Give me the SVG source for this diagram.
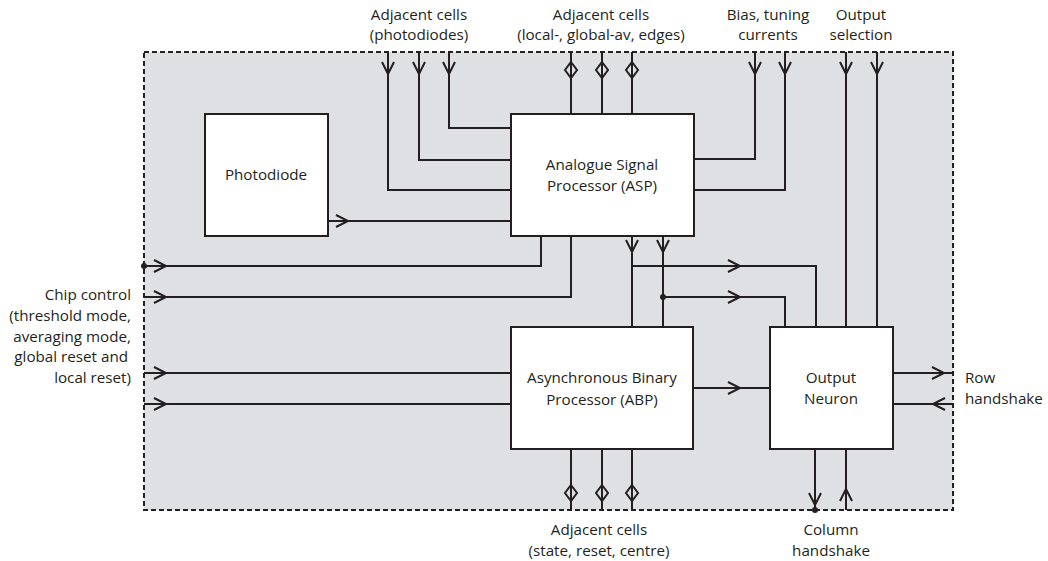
<svg xmlns="http://www.w3.org/2000/svg" xmlns:xlink="http://www.w3.org/1999/xlink" width="1048" height="561" viewBox="0 0 1048 561">
  <style>
    .frame { fill: #dfe0e4; stroke: #231f20; stroke-width: 2; stroke-dasharray: 5 3; }
    .box { fill: #ffffff; stroke: #231f20; stroke-width: 2; }
    .wire { fill: none; stroke: #231f20; stroke-width: 2; }
    .head { fill: none; stroke: #231f20; stroke-width: 2; stroke-linejoin: miter; }
    .dot { fill: #231f20; }
    text { font-family: "Open Sans", "Noto Sans", "Liberation Sans", sans-serif; font-size: 15.2px; fill: #231f20; }
    .c { text-anchor: middle; }
    .r { text-anchor: end; }
  </style>
  <defs>
    <!-- open chevron arrowhead, tip at origin, pointing +x -->
    <path id="ah" d="M-12,-6 L0,0 L-12,6"/>
    <!-- bidirectional port diamond centred on origin -->
    <path id="dm" d="M0,-8 L6,0 L0,8 L-6,0 Z"/>
  </defs>

  <!-- pixel cell boundary -->
  <rect class="frame" x="144" y="52" width="809" height="458"/>

  <!-- connectors -->
  <g id="connectors">
    <g class="wire">
      <!-- adjacent photodiodes into ASP -->
      <path d="M388,52 V190 H511"/>
      <path d="M419,52 V160 H511"/>
      <path d="M449,52 V128 H511"/>
      <!-- adjacent cells (local/global average, edges) -->
      <path d="M571,52 V114"/>
      <path d="M602,52 V114"/>
      <path d="M632,52 V114"/>
      <!-- bias and tuning currents -->
      <path d="M755,52 V159 H694"/>
      <path d="M785,52 V190 H694"/>
      <!-- output selection -->
      <path d="M846,52 V327"/>
      <path d="M877,52 V327"/>
      <!-- photodiode to ASP -->
      <path d="M328,221 H511"/>
      <!-- chip control -->
      <path d="M144,266 H541 V236"/>
      <path d="M144,297 H571 V236"/>
      <path d="M144,373 H511"/>
      <path d="M144,404 H511"/>
      <!-- ASP to ABP and output neuron -->
      <path d="M632,236 V327"/>
      <path d="M663,236 V327"/>
      <path d="M632,266 H816 V327"/>
      <path d="M663,297 H785 V327"/>
      <!-- ABP to output neuron -->
      <path d="M693,388 H770"/>
      <!-- row handshake -->
      <path d="M893,373 H953"/>
      <path d="M893,404 H953"/>
      <!-- adjacent cells (state, reset, centre) -->
      <path d="M571,449 V510"/>
      <path d="M602,449 V510"/>
      <path d="M632,449 V510"/>
      <!-- column handshake -->
      <path d="M815,449 V510"/>
      <path d="M846,449 V510"/>
    </g>
    <g class="head">
      <use xlink:href="#ah" transform="translate(388,74) rotate(90)"/>
      <use xlink:href="#ah" transform="translate(419,74) rotate(90)"/>
      <use xlink:href="#ah" transform="translate(449,74) rotate(90)"/>
      <use xlink:href="#ah" transform="translate(755,74) rotate(90)"/>
      <use xlink:href="#ah" transform="translate(785,74) rotate(90)"/>
      <use xlink:href="#ah" transform="translate(846,74) rotate(90)"/>
      <use xlink:href="#ah" transform="translate(877,74) rotate(90)"/>
      <use xlink:href="#ah" transform="translate(348,221)"/>
      <use xlink:href="#ah" transform="translate(166,266)"/>
      <use xlink:href="#ah" transform="translate(166,297)"/>
      <use xlink:href="#ah" transform="translate(166,373)"/>
      <use xlink:href="#ah" transform="translate(166,404)"/>
      <use xlink:href="#ah" transform="translate(632,252) rotate(90)"/>
      <use xlink:href="#ah" transform="translate(663,252) rotate(90)"/>
      <use xlink:href="#ah" transform="translate(740,266)"/>
      <use xlink:href="#ah" transform="translate(740,297)"/>
      <use xlink:href="#ah" transform="translate(740,388)"/>
      <use xlink:href="#ah" transform="translate(944,373)"/>
      <use xlink:href="#ah" transform="translate(933,404) rotate(180)"/>
      <use xlink:href="#ah" transform="translate(815,505) rotate(90)"/>
      <use xlink:href="#ah" transform="translate(846,489) rotate(-90)"/>
      <use xlink:href="#dm" transform="translate(571,70)"/>
      <use xlink:href="#dm" transform="translate(602,70)"/>
      <use xlink:href="#dm" transform="translate(632,70)"/>
      <use xlink:href="#dm" transform="translate(571,493)"/>
      <use xlink:href="#dm" transform="translate(602,493)"/>
      <use xlink:href="#dm" transform="translate(632,493)"/>
    </g>
    <circle class="dot" cx="144" cy="266" r="3"/>
    <circle class="dot" cx="663" cy="297" r="3"/>
    <circle class="dot" cx="815" cy="510" r="3"/>
  </g>

  <!-- blocks -->
  <g id="photodiode">
    <rect class="box" x="205" y="114" width="123" height="122"/>
    <text class="c" x="266" y="180">Photodiode</text>
  </g>
  <g id="asp">
    <rect class="box" x="511" y="114" width="183" height="122"/>
    <text class="c" x="602" y="170">Analogue Signal</text>
    <text class="c" x="602" y="191">Processor (ASP)</text>
  </g>
  <g id="abp">
    <rect class="box" x="511" y="327" width="182" height="122"/>
    <text class="c" x="602" y="383">Asynchronous Binary</text>
    <text class="c" x="602" y="405">Processor (ABP)</text>
  </g>
  <g id="output-neuron">
    <rect class="box" x="770" y="327" width="123" height="122"/>
    <text class="c" x="831" y="383">Output</text>
    <text class="c" x="831" y="404">Neuron</text>
  </g>

  <!-- external signal labels -->
  <g id="label-photodiodes">
    <text class="c" x="419" y="20">Adjacent cells</text>
    <text class="c" x="419" y="40">(photodiodes)</text>
  </g>
  <g id="label-local">
    <text class="c" x="601" y="20">Adjacent cells</text>
    <text class="c" x="601" y="40">(local-, global-av, edges)</text>
  </g>
  <g id="label-bias">
    <text class="c" x="768" y="20">Bias, tuning</text>
    <text class="c" x="768" y="40">currents</text>
  </g>
  <g id="label-outsel">
    <text class="c" x="861" y="20">Output</text>
    <text class="c" x="861" y="40">selection</text>
  </g>
  <g id="label-chip">
    <text class="r" x="131" y="300">Chip control</text>
    <text class="r" x="131" y="321">(threshold mode,</text>
    <text class="r" x="131" y="342">averaging mode,</text>
    <text class="r" x="128" y="362">global reset and</text>
    <text class="r" x="131" y="383">local reset)</text>
  </g>
  <g id="label-row">
    <text x="965" y="383">Row</text>
    <text x="965" y="404">handshake</text>
  </g>
  <g id="label-state">
    <text class="c" x="599" y="535">Adjacent cells</text>
    <text class="c" x="599" y="556">(state, reset, centre)</text>
  </g>
  <g id="label-column">
    <text class="c" x="831" y="535">Column</text>
    <text class="c" x="831" y="556">handshake</text>
  </g>
</svg>
